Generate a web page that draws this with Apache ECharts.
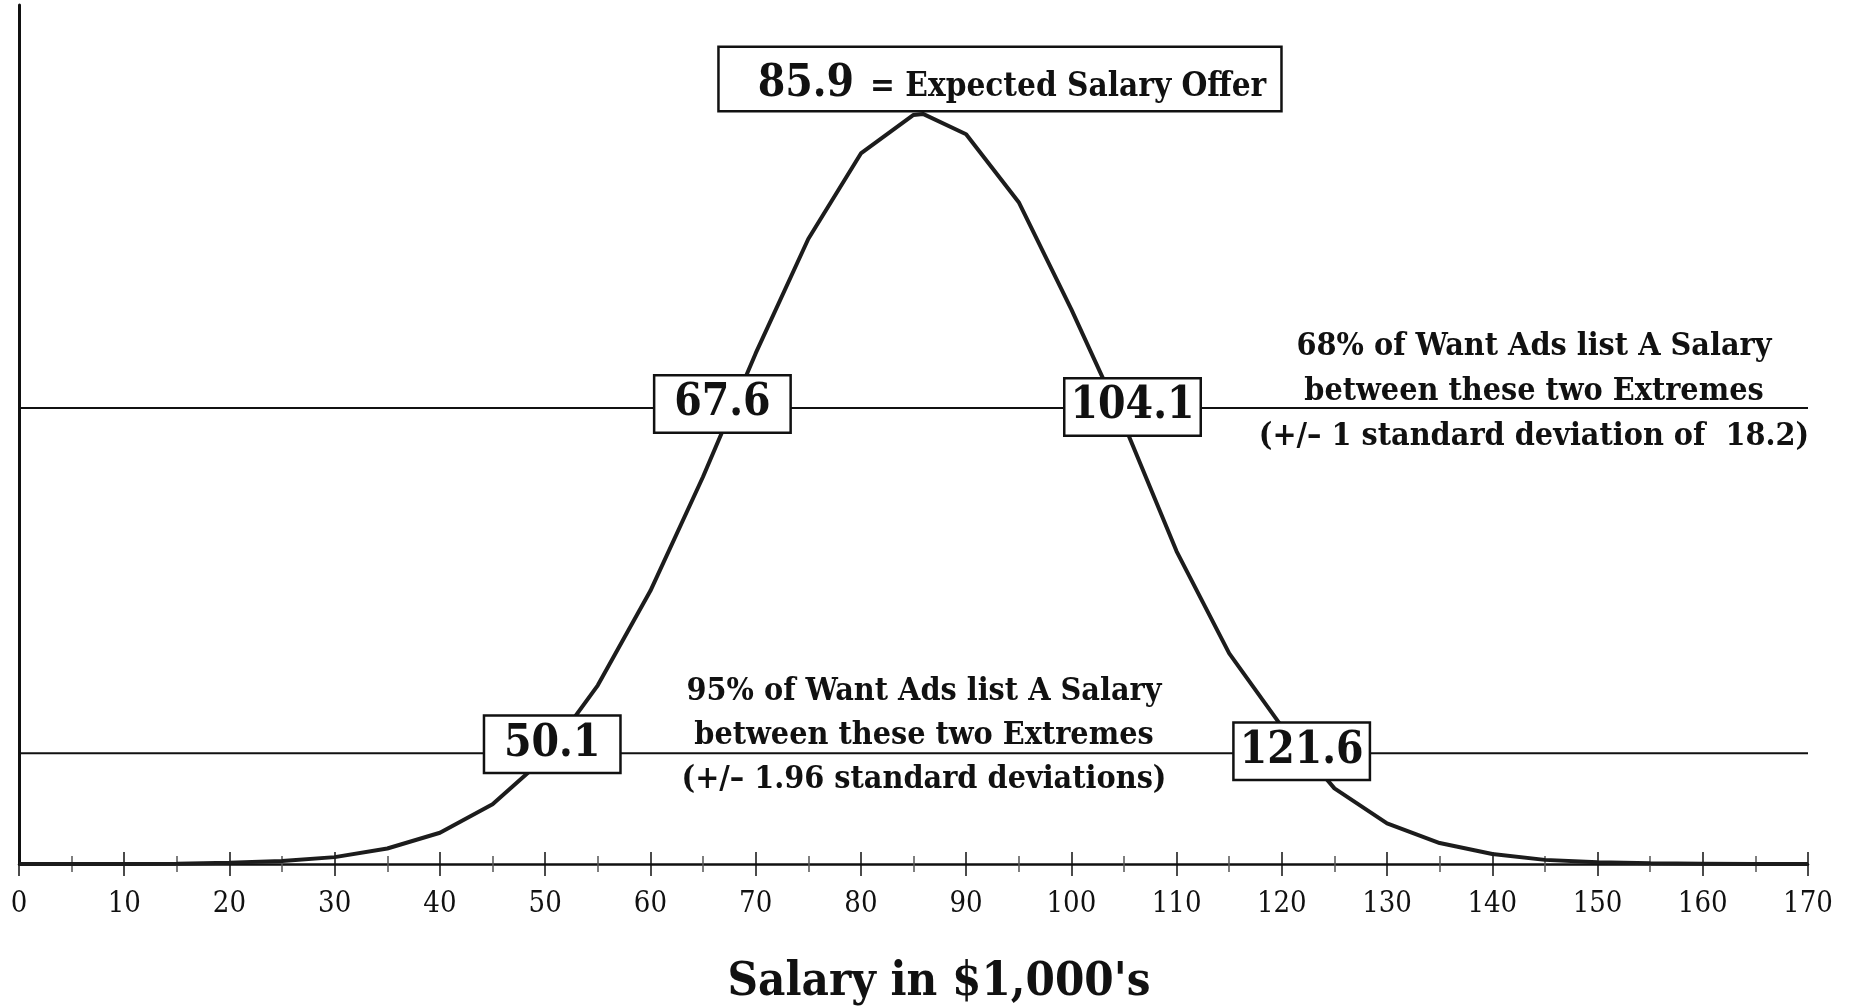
<!DOCTYPE html>
<html>
<head>
<meta charset="utf-8">
<script src="https://cdn.jsdelivr.net/npm/echarts@6/dist/echarts.min.js"></script>
<style>
html, body { margin: 0; padding: 0; background: #fff; }
#chart { width: 1856px; height: 1006px; }
</style>
</head>
<body>
<div id="chart"></div>
<script>
// salary in $1,000's (curve vertices, every 5 plus the mean)
var salary = [0, 5, 10, 15, 20, 25, 30, 35, 40, 45, 50, 55, 60, 65, 70, 75, 80, 85, 85.9,
    90, 95, 100, 105, 110, 115, 120, 125, 130, 135, 140, 145, 150, 155, 160, 165, 170];
// height of the bell curve at each salary (no scale shown, arbitrary units)
var frequency = [0, 0, 0, 0.01, 0.04, 0.09, 0.2, 0.45, 0.91, 1.74, 3.1, 5.2, 7.95, 11.27, 14.86, 18.19, 20.68, 21.8, 21.83,
    21.24, 19.26, 16.14, 12.8, 9.1, 6.13, 4.0, 2.2, 1.18, 0.61, 0.29, 0.12, 0.05, 0.02, 0.01, 0, 0];

var expectedSalary = 85.9;
var oneSdBounds = [67.6, 104.1];
var twoSdBounds = [50.1, 121.6];
var oneSdLevel = 13.27;
var twoSdLevel = 3.22;

var boldFont = 'DejaVu Serif Condensed, DejaVu Serif, serif';
var plainFont = 'DejaVu Serif Condensed, Liberation Serif, serif';
var ink = '#111';

var chart = echarts.init(document.getElementById('chart'));

function boxLabel(offset) {
    return {
        show: true,
        position: 'inside',
        offset: offset,
        formatter: '{b}',
        fontFamily: boldFont,
        fontWeight: 'bold',
        fontSize: 44,
        color: ink,
        backgroundColor: '#fff',
        borderColor: ink,
        borderWidth: 2.5,
        width: 134,
        height: 55,
        lineHeight: 55,
        align: 'center',
        verticalAlign: 'middle'
    };
}

var curve = salary.map(function (s, i) { return [s, frequency[i]]; });

function bandLine(level) {
    return {
        type: 'line',
        data: [[0, level], [170, level]],
        symbol: 'none',
        silent: true,
        clip: false,
        lineStyle: { color: ink, width: 2 },
        z: 1
    };
}

var option = {
    backgroundColor: '#fff',
    animation: false,
    grid: { left: 19, right: 48, top: 5, bottom: 142, containLabel: false },
    xAxis: [
        {
            type: 'value', min: 0, max: 170, interval: 10,
            axisLine: { show: true, lineStyle: { color: ink, width: 2.5 } },
            axisLabel: { margin: 26, fontFamily: plainFont, fontSize: 29, color: ink },
            axisTick: { show: true, length: 12, lineStyle: { color: ink, width: 1.5 } },
            minorTick: { show: true, splitNumber: 2, length: 8, lineStyle: { color: '#555', width: 1.5 } },
            splitLine: { show: false },
            minorSplitLine: { show: false }
        },
        {
            type: 'value', min: 0, max: 170, interval: 10, position: 'bottom',
            axisLine: { show: false },
            axisLabel: { show: false },
            axisTick: { show: true, inside: true, length: 12, lineStyle: { color: ink, width: 1.5 } },
            minorTick: { show: true, splitNumber: 2, length: 8, lineStyle: { color: '#555', width: 1.5 } },
            splitLine: { show: false }
        }
    ],
    yAxis: {
        type: 'value', min: 0, max: 25,
        axisLine: { show: true, lineStyle: { color: ink, width: 3 } },
        axisTick: { show: false },
        axisLabel: { show: false },
        splitLine: { show: false }
    },
    series: [
        bandLine(oneSdLevel),
        bandLine(twoSdLevel),
        {
            type: 'line',
            data: curve,
            symbol: 'none',
            clip: false,
            lineStyle: { color: '#1c1c1c', width: 4 },
            z: 3
        },
        {
            type: 'scatter',
            symbolSize: 2,
            itemStyle: { color: 'transparent', opacity: 1 },
            silent: true,
            z: 10,
            data: [
                { name: String(oneSdBounds[0]), value: [oneSdBounds[0], oneSdLevel], label: boxLabel([-8, -4]) },
                { name: String(oneSdBounds[1]), value: [oneSdBounds[1], oneSdLevel], label: boxLabel([18, -1]) },
                { name: String(twoSdBounds[0]), value: [twoSdBounds[0], twoSdLevel], label: boxLabel([6, -9]) },
                { name: String(twoSdBounds[1]), value: [twoSdBounds[1], twoSdLevel], label: boxLabel([3, -2]) },
                {
                    name: String(expectedSalary),
                    value: [expectedSalary, frequency[salary.indexOf(expectedSalary)]],
                    label: {
                        show: true,
                        position: 'inside',
                        offset: [77, -35],
                        formatter: '{big|{b}}{small|= Expected Salary Offer}',
                        backgroundColor: '#fff',
                        borderColor: ink,
                        borderWidth: 2.5,
                        padding: [12, 14, 0, 38],
                        color: ink,
                        rich: {
                            big: { fontFamily: boldFont, fontWeight: 'bold', fontSize: 44, color: ink, height: 50, lineHeight: 50 },
                            small: { fontFamily: boldFont, fontWeight: 'bold', fontSize: 33, color: ink, height: 50, lineHeight: 50, padding: [6, 0, 0, 16] }
                        }
                    }
                }
            ]
        }
    ],
    graphic: [
        {
            type: 'text', z: 20,
            style: {
                x: 1534, y: 392,
                text: "68% of Want Ads list A Salary\nbetween these two Extremes\n(+/\u2013 1 standard deviation of  18.2)",
                font: 'bold 32px ' + boldFont,
                fill: ink,
                align: 'center', textAlign: 'center',
                verticalAlign: 'middle', textVerticalAlign: 'middle',
                lineHeight: 45
            }
        },
        {
            type: 'text', z: 20,
            style: {
                x: 924, y: 736,
                text: "95% of Want Ads list A Salary\nbetween these two Extremes\n(+/\u2013 1.96 standard deviations)",
                font: 'bold 32px ' + boldFont,
                fill: ink,
                align: 'center', textAlign: 'center',
                verticalAlign: 'middle', textVerticalAlign: 'middle',
                lineHeight: 44
            }
        },
        {
            type: 'text', z: 20,
            style: {
                x: 939, y: 983,
                text: "Salary in $1,000's",
                font: 'bold 47px ' + boldFont,
                fill: ink,
                align: 'center', textAlign: 'center',
                verticalAlign: 'middle', textVerticalAlign: 'middle'
            }
        }
    ]
};

chart.setOption(option);
</script>
</body>
</html>
